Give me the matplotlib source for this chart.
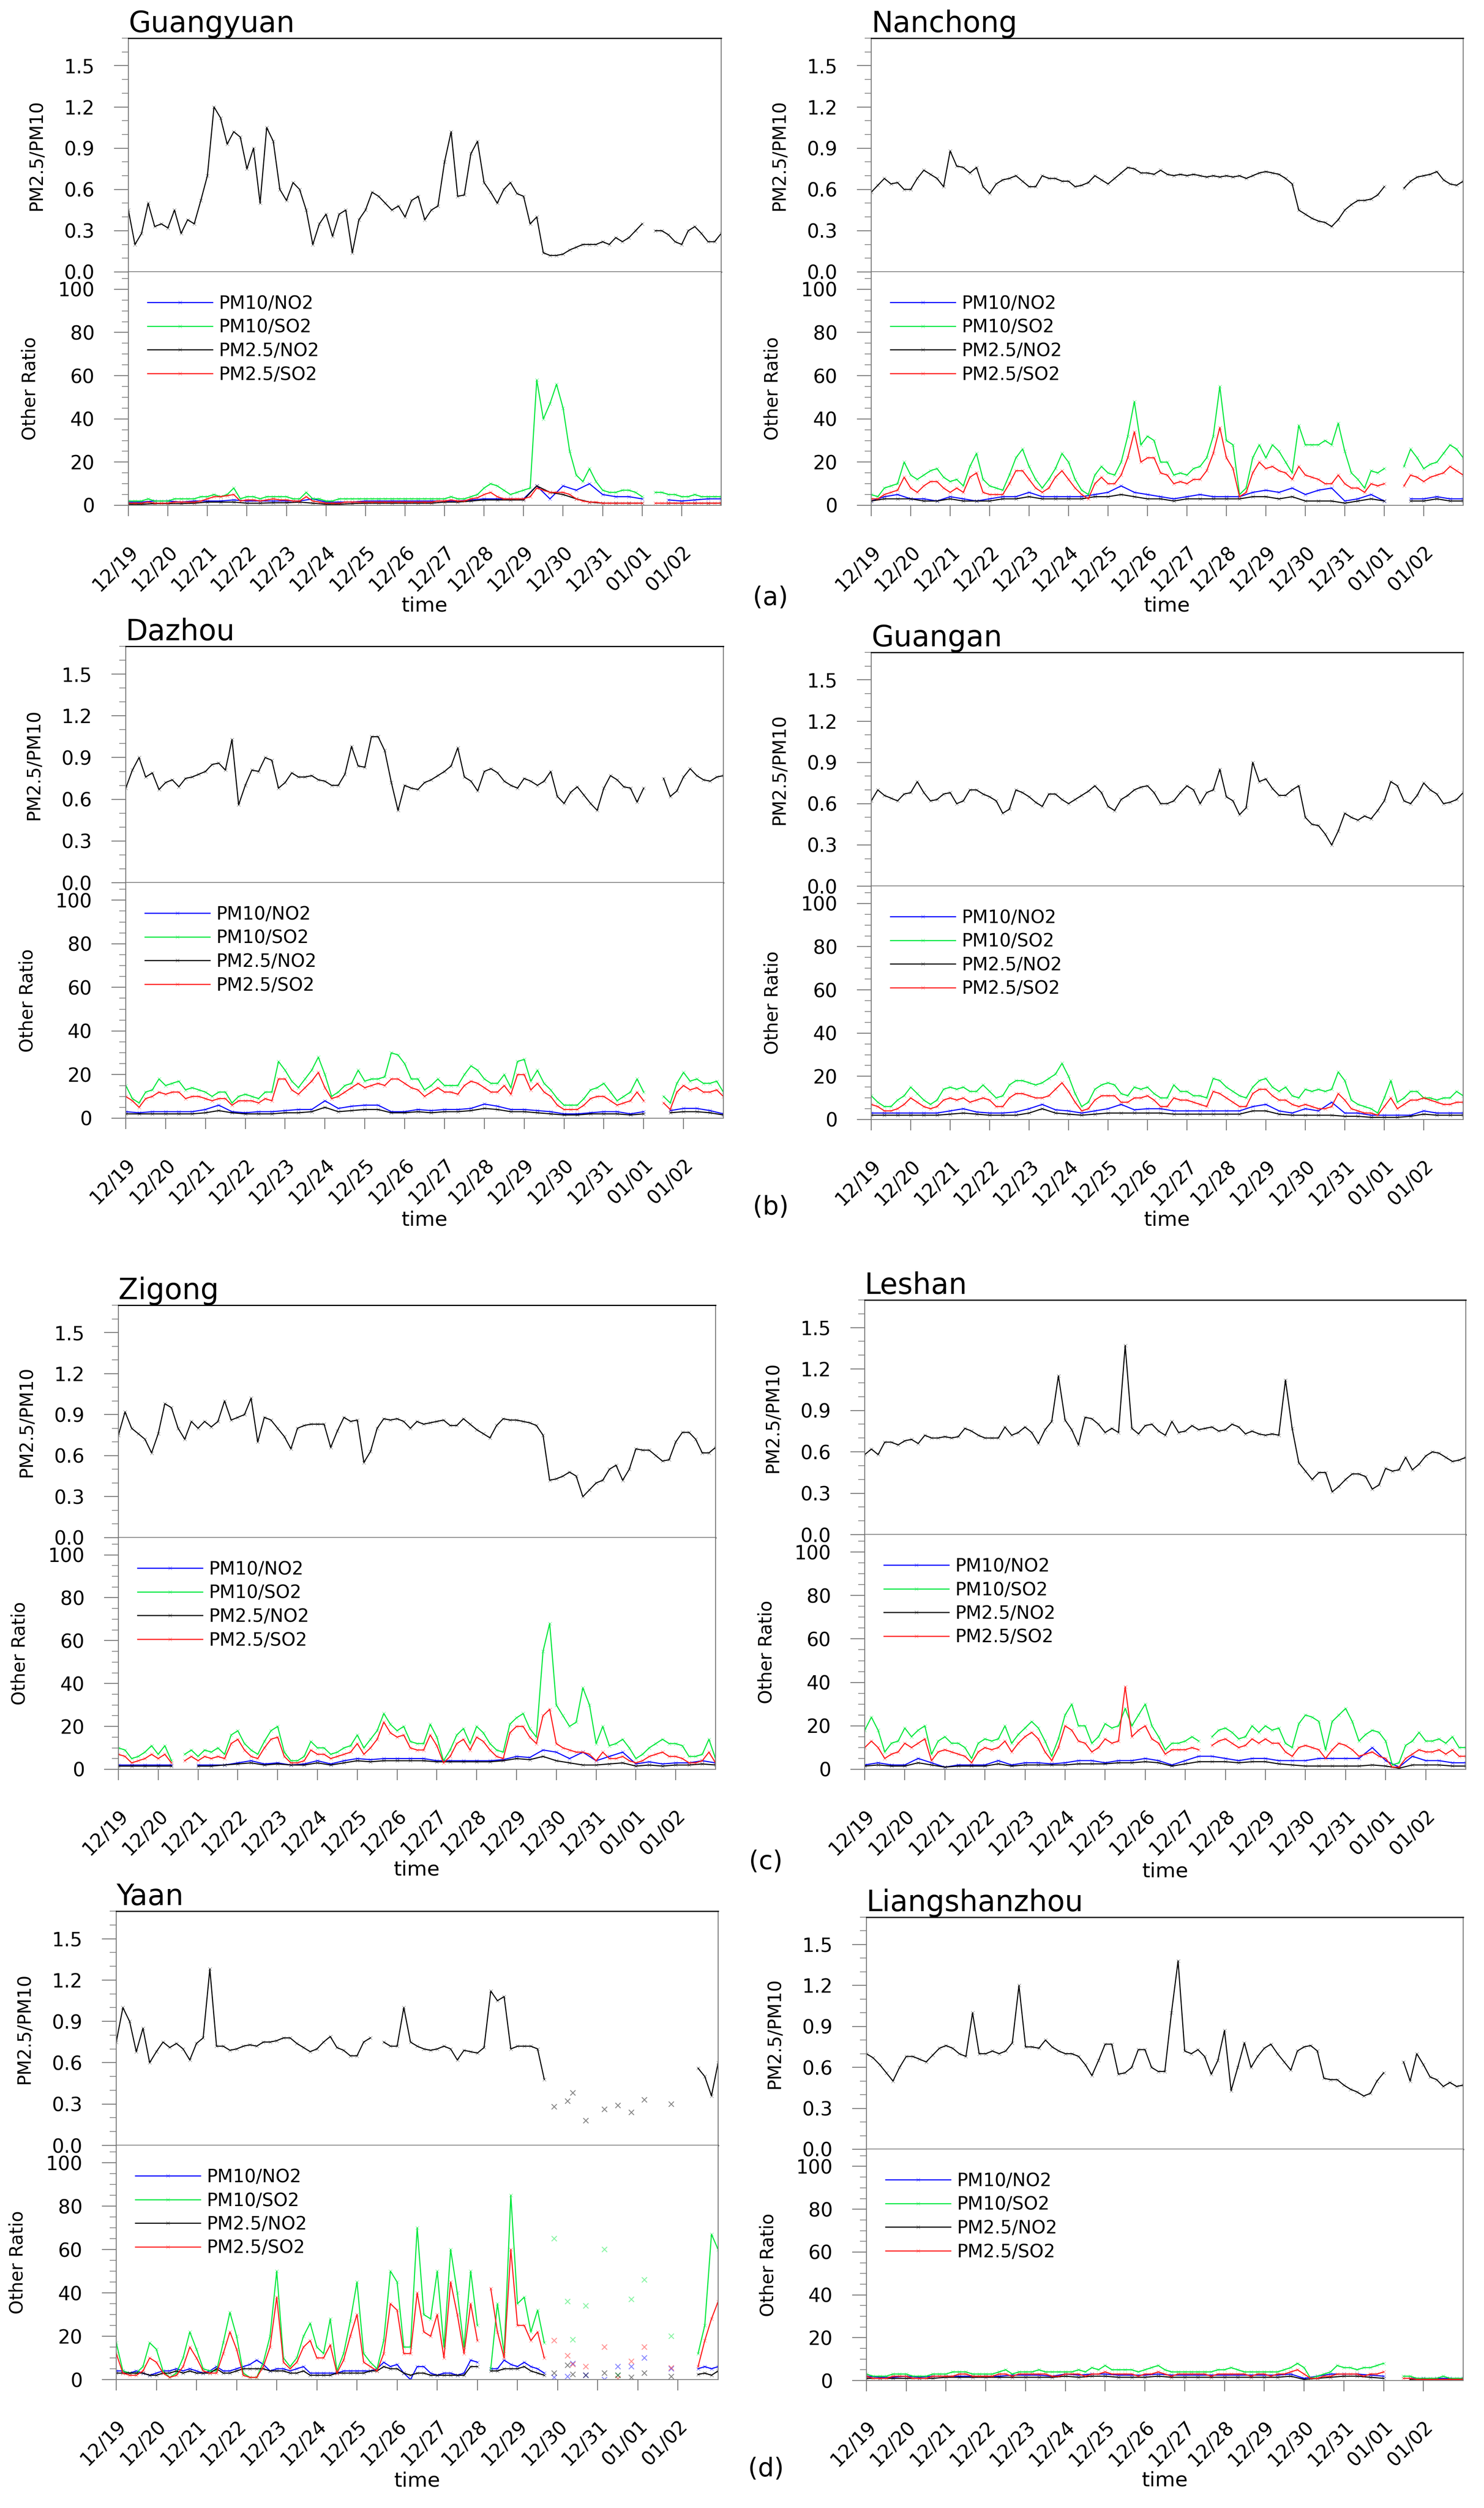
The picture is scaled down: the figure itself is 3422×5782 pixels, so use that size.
import numpy as np
import matplotlib
matplotlib.use('Agg')
import matplotlib.pyplot as plt
from matplotlib.ticker import MultipleLocator

plt.rcParams['font.family'] = ['DejaVu Sans']
nan = float('nan')

date_labels = ['12/19', '12/20', '12/21', '12/22', '12/23', '12/24', '12/25', '12/26',
               '12/27', '12/28', '12/29', '12/30', '12/31', '01/01', '01/02']
legend_labels = ['PM10/NO2', 'PM10/SO2', 'PM2.5/NO2', 'PM2.5/SO2']
series_colors = ['#0000ff', '#00e83c', '#000000', '#ff1a1a']
panel_letters = ['(a)', '(b)', '(c)', '(d)']
station_names = ['Guangyuan', 'Nanchong', 'Dazhou', 'Guangan',
                 'Zigong', 'Leshan', 'Yaan', 'Liangshanzhou']

# ---------------- Guangyuan ----------------
guangyuan_pm25_pm10 = [0.45,0.20,0.28,0.50,0.33,0.35, 0.32,0.45,0.28,0.38,0.35,0.52,
    0.70,1.20,1.12,0.93,1.02,0.98, 0.75,0.90,0.50,1.05,0.95,0.60, 0.52,0.65,0.60,0.45,0.20,0.35,
    0.42,0.26,0.42,0.45,0.14,0.38, 0.45,0.58,0.55,0.50,0.45,0.48, 0.40,0.52,0.55,0.38,0.45,0.48,
    0.80,1.02,0.55,0.56,0.86,0.95, 0.65,0.58,0.50,0.60,0.65,0.57, 0.55,0.35,0.40,0.14,0.12,0.12,
    0.13,0.16,0.18,0.20,0.20,0.20, 0.22,0.20,0.25,0.22,0.25,0.30, 0.35,nan,0.30,0.30,0.27,0.22,
    0.20,0.30,0.33,0.28,0.22,0.22, 0.28]
guangyuan_pm10_so2 = [2,2,2,3,2,2, 2,3,3,3,3,4, 4,5,4,5,8,3, 4,4,3,4,4,4, 4,3,3,6,3,3,
    2,2,3,3,3,3, 3,3,3,3,3,3, 3,3,3,3,3,3, 3,4,3,3,4,5, 8,10,9,7,5,6, 7,8,58,40,47,56,
    45,25,14,11,17,11, 7,6,6,7,7,6, 4,nan,6,6,5,5, 4,4,5,4,4,4, 4]
guangyuan_pm25_so2 = [1,1,1,1.5,1,1, 1,1.5,1.5,1.5,1.5,2, 3,4,4,4.5,5,2, 2.5,2.5,2,2.5,3,2.5,
    2.5,2,2,4,2,1.5, 1,1,1,1.5,1.5,1.5, 1.5,1.5,1.5,1.5,1.5,1.5, 1.5,1.5,1.5,1.5,1.5,2,
    2,2.5,2,2,3,3.5, 5,6,4,3,3,3, 3,4,8,7,6,6, 6,5,3,2,1.5,1.5, 1,1,1,1,1,1,
    1,nan,1,1,1,1, 1,1,1,1,1,1, 1]
guangyuan_pm10_no2 = [1.5,1.5,2, 2,1.5,2, 2,2,2.5, 2,2,2, 2,2,3, 1.5,1.5,1.5, 2,2,2, 2,2,2,
    2,2,2.5, 3,3,3, 3,9,3, 9,7,10, 5,4,4, 3,nan,2.5, 2,2.5,3, 3]
guangyuan_pm25_no2 = [0.5,0.5,0.8, 0.8,0.8,1, 1.5,1.5,1.5, 1,1,1.2, 1.2,1.5,1, 0.5,0.5,0.8,
    1,1,1, 1,1,1, 1.5,1.5,2, 2.5,2.5,2.5, 2.5,9,6, 5,3,1.5, 1,1,1, 1,nan,1, 1,1,1, 1]

# ---------------- Nanchong ----------------
nanchong_pm25_pm10 = [0.58,0.63,0.68,0.64,0.65,0.60, 0.60,0.68,0.74,0.71,0.68,0.62,
    0.88,0.77,0.76,0.72,0.76,0.62, 0.57,0.64,0.67,0.68,0.70,0.66, 0.62,0.62,0.70,0.68,0.68,0.66,
    0.66,0.62,0.63,0.65,0.70,0.67, 0.64,0.68,0.72,0.76,0.75,0.72, 0.72,0.71,0.74,0.71,0.70,0.71,
    0.70,0.71,0.70,0.69,0.70,0.69, 0.70,0.69,0.70,0.68,0.70,0.72, 0.73,0.72,0.71,0.68,0.64,0.45,
    0.42,0.39,0.37,0.36,0.33,0.38, 0.45,0.49,0.52,0.52,0.53,0.56, 0.62,nan,nan,0.61,0.66,0.69,
    0.70,0.71,0.73,0.67,0.64,0.63, 0.66]
nanchong_pm10_so2 = [5,4,8,9,10,20, 14,12,14,16,17,13, 11,12,9,18,24,12, 9,8,7,14,22,26,
    18,12,8,12,17,24, 20,12,7,5,14,18, 15,14,20,32,48,28, 32,30,20,20,14,15,
    14,17,18,22,32,55, 30,28,5,8,22,28, 22,28,25,20,15,37, 28,28,28,30,28,38,
    25,15,12,8,16,15, 17,nan,nan,18,26,22, 17,19,20,24,28,26, 22]
nanchong_pm25_so2 = [3,3,5,6,7,13, 8,6,9,11,11,8, 6,8,6,13,15,6, 5,5,5,10,16,16,
    12,8,6,8,13,16, 12,8,5,3,10,13, 10,10,14,22,34,20, 22,22,15,14,10,11,
    10,12,12,16,24,36, 22,17,4,6,15,20, 17,18,16,15,12,18, 14,13,12,10,10,14,
    10,8,8,6,10,9, 10,nan,nan,9,14,13, 11,13,14,15,18,16, 14]
nanchong_pm10_no2 = [2,4,5, 3,3,2, 4,3,2, 3,4,4, 6,4,4, 4,4,5, 6,9,6, 5,4,3, 4,5,4,
    4,4,6, 7,6,8, 5,7,8, 2,3,5, 2,nan,3, 3,4,3, 3]
nanchong_pm25_no2 = [2,3,3, 3,2,2, 3,2,2, 2,3,3, 4,3,3, 3,3,4, 4,5,4, 3,3,2, 3,3,3,
    3,3,4, 4,3,4, 2,2,2, 1,2,3, 2,nan,2, 2,3,2, 2]

# ---------------- Dazhou ----------------
dazhou_pm25_pm10 = [0.68,0.81,0.90,0.76,0.79,0.67, 0.72,0.74,0.69,0.75,0.76,0.78,
    0.80,0.85,0.86,0.81,1.03,0.56, 0.70,0.81,0.80,0.90,0.88,0.68, 0.72,0.79,0.76,0.76,0.77,0.74,
    0.73,0.70,0.70,0.78,0.98,0.84, 0.83,1.05,1.05,0.95,0.72,0.52, 0.70,0.68,0.67,0.72,0.74,0.77,
    0.80,0.84,0.97,0.76,0.73,0.66, 0.80,0.82,0.79,0.73,0.70,0.68, 0.75,0.73,0.70,0.73,0.80,0.62,
    0.57,0.65,0.69,0.63,0.57,0.52, 0.68,0.77,0.74,0.69,0.68,0.58, 0.68,nan,nan,0.75,0.62,0.66,
    0.76,0.82,0.77,0.74,0.73,0.76, 0.77]
dazhou_pm10_so2 = [15,9,7,12,13,18, 15,16,17,13,14,13, 12,10,12,12,7,10, 11,10,9,12,12,26,
    22,17,14,18,22,28, 20,10,12,15,16,22, 17,18,18,19,30,29, 25,18,18,13,15,18,
    15,15,15,20,24,22, 18,16,16,20,14,26, 27,17,22,16,13,9, 6,6,6,9,13,14,
    16,12,8,10,12,18, 12,nan,nan,10,7,16, 21,17,18,16,16,17, 12]
dazhou_pm25_so2 = [10,8,5,9,10,12, 11,12,12,9,10,10, 9,8,9,9,6,8, 8,8,7,9,8,18,
    18,13,11,14,17,21, 14,9,10,12,14,16, 14,15,16,15,18,18, 16,14,13,10,12,14,
    12,12,11,15,17,16, 14,12,12,15,11,20, 20,13,16,12,10,6, 4,4,4,6,9,10,
    10,8,6,7,8,12, 8,nan,nan,7,4,12, 15,13,14,12,12,13, 10]
dazhou_pm10_no2 = [3,2.5,3, 3,3,3, 4,6,3, 2.5,3,3, 3.5,4,4, 8,4.5,5.5, 6,6,3, 3,4,3.5,
    4,4,4.5, 6.5,5.5,4, 4,3.5,3, 2,2,2.5, 3,3,2, 3,nan,3.5, 4.5,4.5,3.5, 2]
dazhou_pm25_no2 = [2,2,2, 2,2,2, 2.5,3.5,2.5, 2,2,2, 2.5,2.5,3, 5,3,3.5, 4,4,2.5, 2.5,3,2.5,
    3,3,3.5, 4.5,4,3, 3,2.5,2, 1.5,1.5,2, 2,2,1.5, 2,nan,2.5, 3,3,2.5, 1.5]

# ---------------- Guangan ----------------
guangan_pm25_pm10 = [0.62,0.70,0.66,0.64,0.62,0.67, 0.68,0.76,0.68,0.62,0.63,0.67,
    0.68,0.60,0.62,0.70,0.70,0.67, 0.65,0.62,0.53,0.56,0.70,0.68, 0.65,0.61,0.58,0.67,0.67,0.63,
    0.60,0.63,0.66,0.69,0.73,0.68, 0.58,0.55,0.63,0.66,0.70,0.72, 0.73,0.68,0.60,0.60,0.62,0.68,
    0.73,0.70,0.60,0.68,0.70,0.85, 0.65,0.62,0.52,0.57,0.90,0.76, 0.78,0.71,0.66,0.66,0.70,0.73,
    0.50,0.45,0.44,0.38,0.30,0.40, 0.53,0.50,0.48,0.51,0.49,0.55, 0.62,0.76,0.73,0.62,0.60,0.66,
    0.75,0.70,0.67,0.60,0.61,0.63, 0.68]
guangan_pm10_so2 = [11,8,6,6,9,11, 15,12,9,7,9,14, 15,14,15,13,13,16, 13,10,11,16,18,18,
    17,16,17,19,21,26, 20,12,6,8,14,16, 17,16,12,11,15,14, 15,12,10,10,16,13,
    13,11,11,10,19,18, 15,13,11,10,15,18, 19,15,13,15,11,10, 14,13,14,13,14,22,
    18,9,7,6,5,3, 10,18,8,10,13,13, 10,10,9,10,10,13, 11]
guangan_pm25_so2 = [7,6,4,4,5,7, 10,8,6,5,6,9, 10,9,10,8,9,10, 9,6,6,10,12,12,
    11,10,10,11,14,17, 13,8,4,5,9,11, 11,11,8,8,10,10, 11,9,6,6,10,9,
    9,8,7,6,13,12, 10,8,6,6,12,14, 14,11,9,9,7,6, 7,6,5,5,6,12,
    9,5,4,3,3,2, 6,10,5,7,9,9, 10,9,8,7,7,8, 8]
guangan_pm10_no2 = [3,3,3, 3,3,3, 4,5,3.5, 3,3,3.5, 5,7,4.5, 4,3,4, 5,7,4.5, 5,5,4, 4,4,4,
    4,4,6, 7,4,3, 5,4,8, 3,3,2, 2,2,2, 4,3,3, 3]
guangan_pm25_no2 = [2,2,2, 2,2,2, 2.5,3,2.5, 2,2,2, 3,5,3, 2.5,2,2.5, 3,3,3, 3,3,2.5,
    2.5,2.5,2.5, 2.5,2.5,4, 4,2.5,2, 2,2,2, 1.5,1.5,1, 1,1,1.5, 2.5,2,2, 2]

# ---------------- Zigong ----------------
zigong_pm25_pm10 = [0.75,0.92,0.80,0.76,0.72,0.62, 0.76,0.98,0.95,0.80,0.72,0.85,
    0.80,0.85,0.81,0.85,1.00,0.86, 0.88,0.90,1.02,0.70,0.88,0.86, 0.80,0.74,0.65,0.80,0.82,0.83,
    0.83,0.83,0.66,0.78,0.88,0.85, 0.86,0.55,0.63,0.80,0.87,0.86, 0.87,0.85,0.80,0.85,0.83,0.84,
    0.85,0.86,0.82,0.82,0.87,0.83, 0.79,0.76,0.73,0.82,0.87,0.86, 0.86,0.85,0.84,0.82,0.75,0.42,
    0.43,0.45,0.48,0.45,0.30,0.35, 0.40,0.42,0.50,0.53,0.42,0.50, 0.65,0.64,0.64,0.60,0.56,0.57,
    0.70,0.77,0.77,0.72,0.62,0.62, 0.66]
zigong_pm10_so2 = [10,9,5,6,8,11, 7,11,4,nan,7,9, 6,9,8,10,7,16, 18,12,9,7,13,18,
    20,8,4,4,6,13, 10,10,7,8,10,11, 16,10,14,18,26,21, 18,20,13,12,12,21,
    15,4,9,16,19,12, 20,17,12,9,8,21, 24,26,19,15,55,68, 30,25,20,22,38,30,
    12,20,11,12,14,10, 5,7,10,12,14,12, 12,11,6,6,7,14, 5]
zigong_pm25_so2 = [7,6,3,4,5,7, 5,7,3,nan,4,6, 4,6,5,6,5,12, 14,9,6,5,10,14,
    15,6,3,3,4,9, 7,7,5,6,7,8, 12,7,10,14,22,17, 15,16,10,9,9,16,
    11,3,6,12,14,9, 15,13,9,6,5,17, 20,20,15,12,25,28, 12,10,9,8,8,7,
    4,8,5,5,6,4, 3,4,6,7,8,6, 6,5,3,3,4,8, 3]
zigong_pm10_no2 = [2,2,2, 2,2,nan, 2,2,2, 3,4,2.5, 3,2,2.5, 4,2.5,4, 5,4.5,5, 5,5,5, 4,4,4,
    4,4,4.5, 6,5.5,9, 8,5,8, 4,6,8, 2.5,3.5,2.5, 3,3,4, 3]
zigong_pm25_no2 = [1.5,1.5,1.5, 1.5,1.5,nan, 1.5,1.5,2, 2.5,3,2, 2.5,2,2, 3,2,3, 4,3.5,4,
    4,4,4, 3.5,3.5,3.5, 3.5,3.5,4, 5,4.5,6, 4,3,2, 2,2.5,3, 1.5,2,1.5, 2,2,2.5, 2]

# ---------------- Leshan ----------------
leshan_pm25_pm10 = [0.58,0.62,0.58,0.67,0.67,0.65, 0.68,0.69,0.66,0.72,0.70,0.70,
    0.71,0.70,0.71,0.77,0.75,0.72, 0.70,0.70,0.70,0.78,0.72,0.74, 0.78,0.74,0.66,0.76,0.82,1.15,
    0.83,0.76,0.65,0.85,0.84,0.80, 0.74,0.77,0.74,1.37,0.77,0.73, 0.79,0.80,0.75,0.72,0.82,0.74,
    0.75,0.79,0.76,0.77,0.78,0.75, 0.76,0.80,0.78,0.73,0.75,0.73, 0.72,0.73,0.72,1.12,0.77,0.52,
    0.46,0.40,0.45,0.45,0.31,0.35, 0.40,0.44,0.44,0.42,0.33,0.36, 0.48,0.46,0.47,0.56,0.47,0.51,
    0.57,0.60,0.59,0.56,0.53,0.54, 0.56]
leshan_pm10_so2 = [18,24,18,8,12,13, 19,15,18,20,7,13, 15,12,12,10,5,12, 14,13,14,20,12,16,
    19,22,19,13,6,14, 25,30,20,20,12,15, 21,19,20,28,20,25, 30,20,15,9,12,12,
    13,15,13,nan,15,18, 19,17,14,15,20,17, 20,18,19,12,10,21, 25,24,22,9,22,25,
    28,22,13,16,18,17, 13,2,3,11,13,17, 13,13,14,12,15,10, 10]
leshan_pm25_so2 = [10,13,10,5,7,8, 12,10,12,14,4,8, 9,8,7,6,3,8, 10,9,10,13,8,12,
    15,17,14,8,4,10, 20,18,13,12,8,10, 14,12,13,38,15,18, 20,14,12,7,9,9,
    9,10,9,nan,11,13, 14,12,10,11,14,12, 14,12,12,8,6,10, 11,10,9,5,9,12,
    11,9,6,7,8,6, 5,1,1,5,7,9, 8,8,9,7,9,6, 6]
leshan_pm10_no2 = [2,3,2, 2,5,3, 1,2,2, 2,4,2, 3,3,2.5, 3,4,4, 3,4,4, 5,4,2, 4,6,6,
    5,4,5, 5,4,4, 4,5,5, 5,5,10, 4,1,6, 4,4,3, 3]
leshan_pm25_no2 = [1.5,2,1.5, 1.5,3,2, 1,1.5,1.5, 1.5,2.5,1.5, 2,2,2, 2,2.5,2.5, 2.5,3,3,
    3.5,3,1.5, 2.5,3.5,3.5, 3.5,3,3.5, 3.5,2.5,2, 1.5,1.5,1.5, 1.5,1.5,2, 1.5,0.5,2,
    2,2,1.5, 1.5]

# ---------------- Yaan ----------------
yaan_pm25_pm10 = [0.75,1.00,0.90,0.68,0.85,0.60, 0.68,0.75,0.71,0.74,0.70,0.62,
    0.74,0.78,1.28,0.72,0.72,0.69, 0.70,0.72,0.73,0.72,0.75,0.75, 0.76,0.78,0.78,0.74,0.71,0.68,
    0.70,0.75,0.79,0.71,0.69,0.65, 0.65,0.75,0.78,nan,0.75,0.72, 0.72,1.00,0.75,0.72,0.70,0.69,
    0.70,0.72,0.70,0.62,0.69,0.68, 0.67,0.71,1.12,1.05,1.08,0.70, 0.72,0.72,0.72,0.70,0.48,nan,
    nan,nan,nan,nan,nan,nan, nan,nan,nan,nan,nan,nan, nan,nan,nan,nan,nan,nan,
    nan,nan,nan,0.56,0.50,0.36, 0.60]
yaan_pm10_so2 = [17,4,3,3,6,17, 14,4,1,3,10,22, 14,5,4,4,17,31, 20,3,1,1,8,20,
    50,10,6,10,20,26, 15,12,28,4,12,27, 45,12,8,5,18,50, 45,15,15,70,30,28,
    50,15,60,40,15,50, 25,nan,5,35,12,85, 35,38,22,32,17,nan,
    nan,nan,nan,nan,nan,nan, nan,nan,nan,nan,nan,nan, nan,nan,nan,nan,nan,nan,
    nan,nan,nan,12,25,67, 60]
yaan_pm25_so2 = [12,3,2,2,4,10, 8,3,1,2,6,15, 10,4,3,3,12,22, 14,2,1,1,6,15,
    38,8,5,8,15,18, 10,10,16,3,9,20, 30,8,6,4,12,35, 32,12,12,40,22,20,
    30,10,45,30,12,35, 18,nan,42,22,10,60, 25,25,18,22,10,nan,
    nan,nan,nan,nan,nan,nan, nan,nan,nan,nan,nan,nan, nan,nan,nan,nan,nan,nan,
    nan,nan,nan,6,18,28, 36]
yaan_pm10_no2 = [4,4,3,4,3,2, 3,4,4,5,4,5, 4,3,4,6,4,4, 5,6,7,9,7,4, 5,5,4,5,6,3,
    3,3,3,3,4,4, 4,4,4,5,8,6, 7,3,0,6,6,3, 2,3,3,2,3,9, 8,nan,5,5,9,7,
    6,8,6,5,3,nan, nan,nan,nan,nan,nan,nan, nan,nan,nan,nan,nan,nan, nan,nan,nan,nan,nan,nan,
    nan,nan,nan,5,6,5, 6]
yaan_pm25_no2 = [3,3,3,3,3,2, 2,3,3,4,3,4, 3,3,3,5,3,3, 4,5,5,5,5,4, 4,4,3,3,4,2,
    2,2,2,3,3,3, 3,3,4,4,6,5, 5,3,2,3,3,2, 2,2,2,2,2,6, 6,nan,4,4,5,5,
    5,6,4,3,2,nan, nan,nan,nan,nan,nan,nan, nan,nan,nan,nan,nan,nan, nan,nan,nan,nan,nan,nan,
    nan,nan,nan,2.4,3,2, 4]
# isolated hourly records in Yaan after 12/29 (hours since 12/19 00:00)
yaan_sparse_hours = [262, 270, 273, 281, 292, 300, 308, 316, 332]
yaan_sparse_pm25_pm10 = [0.28, 0.32, 0.38, 0.18, 0.26, 0.29, 0.24, 0.33, 0.30]
yaan_sparse_pm10_no2 = [1, 1.5, 7.5, 2, 0, 6, 6, 10, 5]
yaan_sparse_pm10_so2 = [65, 36, 18.5, 34, 60, 2, 37, 46, 20]
yaan_sparse_pm25_no2 = [3, 6.7, 2.4, 2, 3, 2, 1, 3, 1.5]
yaan_sparse_pm25_so2 = [18, 11, 7, 6, 15, 0.5, 8.5, 15, 5.5]

# ---------------- Liangshanzhou ----------------
liangshanzhou_pm25_pm10 = [0.70,0.67,0.62,0.56,0.50,0.60, 0.68,0.68,0.66,0.64,0.69,0.74,
    0.76,0.74,0.70,0.68,1.00,0.70, 0.70,0.72,0.70,0.72,0.78,1.20, 0.75,0.75,0.74,0.80,0.75,0.72,
    0.70,0.70,0.68,0.62,0.54,0.65, 0.77,0.77,0.55,0.56,0.60,0.73, 0.73,0.60,0.57,0.57,1.00,1.38,
    0.72,0.70,0.73,0.68,0.55,0.65, 0.87,0.43,0.60,0.78,0.60,0.68, 0.74,0.77,0.70,0.64,0.58,0.72,
    0.75,0.76,0.72,0.52,0.51,0.51, 0.47,0.44,0.42,0.39,0.41,0.50, 0.56,nan,nan,0.64,0.50,0.70,
    0.62,0.53,0.51,0.46,0.49,0.46, 0.47]
liangshanzhou_pm10_so2 = [3,2,2,2,3,3, 3,2,2,2,3,3, 3,4,4,4,3,3, 3,3,4,5,3,4,
    4,4,5,4,4,4, 4,4,5,4,6,5, 7,5,5,5,5,4, 5,6,7,5,4,4, 4,4,4,4,4,5,
    5,6,5,4,4,4, 4,4,4,5,6,8, 6,1,2,3,4,7, 6,6,5,6,6,7, 8,nan,nan,2,2,1,
    1,1,1,2,1,1, 1]
liangshanzhou_pm25_so2 = [2,1,1,1,2,2, 2,1,1,1,2,2, 2,2,3,3,2,2, 2,2,3,3,2,3,
    3,3,3,3,2,2, 3,3,3,2,3,3, 4,3,3,3,3,2, 3,3,4,3,2,3, 3,3,3,3,2,3,
    3,3,3,3,2,3, 3,2,3,3,4,5, 3,1,1,2,2,3, 3,3,3,2,3,3, 4,nan,nan,1,1,0.5,
    0.5,0.5,0.5,0.5,0.5,0.5, 0.5]
liangshanzhou_pm10_no2 = [2,1.5,1.5, 2,1.5,2, 2,2,2, 2,2,2.5, 2.5,2.5,2, 3,2.5,3, 3,2.5,2.5,
    2.5,3,2.5, 2.5,2.5,2.5, 2.5,2.5,2.5, 2.5,2.5,3, 1,2,3, 3,3,2.5, 2,nan,1, 1,1,1, 1]
liangshanzhou_pm25_no2 = [1,1,1, 1,1,1, 1.5,1.5,1.5, 1.5,1.5,1.5, 1.5,1.5,1.5, 2,1.5,2,
    2,1.5,1.5, 1.5,2,1.5, 1.5,1.5,1.5, 1.5,1.5,1.5, 1.5,1.5,2, 0.5,1,1.5, 2,2,1.5,
    1,nan,0.5, 0.5,0.5,0.5, 0.5]

stations = [
    (station_names[0], guangyuan_pm25_pm10, [guangyuan_pm10_no2, guangyuan_pm10_so2, guangyuan_pm25_no2, guangyuan_pm25_so2], None),
    (station_names[1], nanchong_pm25_pm10, [nanchong_pm10_no2, nanchong_pm10_so2, nanchong_pm25_no2, nanchong_pm25_so2], None),
    (station_names[2], dazhou_pm25_pm10, [dazhou_pm10_no2, dazhou_pm10_so2, dazhou_pm25_no2, dazhou_pm25_so2], None),
    (station_names[3], guangan_pm25_pm10, [guangan_pm10_no2, guangan_pm10_so2, guangan_pm25_no2, guangan_pm25_so2], None),
    (station_names[4], zigong_pm25_pm10, [zigong_pm10_no2, zigong_pm10_so2, zigong_pm25_no2, zigong_pm25_so2], None),
    (station_names[5], leshan_pm25_pm10, [leshan_pm10_no2, leshan_pm10_so2, leshan_pm25_no2, leshan_pm25_so2], None),
    (station_names[6], yaan_pm25_pm10, [yaan_pm10_no2, yaan_pm10_so2, yaan_pm25_no2, yaan_pm25_so2],
     (yaan_sparse_hours, yaan_sparse_pm25_pm10,
      [yaan_sparse_pm10_no2, yaan_sparse_pm10_so2, yaan_sparse_pm25_no2, yaan_sparse_pm25_so2])),
    (station_names[7], liangshanzhou_pm25_pm10, [liangshanzhou_pm10_no2, liangshanzhou_pm10_so2, liangshanzhou_pm25_no2, liangshanzhou_pm25_so2], None),
]

# ---------------- layout (pixels) ----------------
W, H = 3422, 5782
fig = plt.figure(figsize=(W / 100, H / 100), dpi=100)

# left, right, top, middle, bottom
boxes = [
    (296, 1663, 88, 627, 1165), (2009, 3374, 88, 627, 1165),
    (290, 1668, 1490, 2035, 2578), (2009, 3374, 1504, 2043, 2581),
    (273, 1650, 3009, 3545, 4079), (1994, 3380, 2997, 3538, 4079),
    (268, 1656, 4406, 4946, 5486), (1998, 3374, 4420, 4955, 5488),
]
time_label_y = [1397, 1397, 2813, 2813, 4311, 4315, 5720, 5719]
letter_pos = [(1777, 1378), (1777, 2783), (1766, 4292), (1766, 5692)]

SPINE = '#7a7a7a'
LW = 1.8


def rect(l, r, t, b):
    return [l / W, 1 - b / H, (r - l) / W, (b - t) / H]


def fx(px):
    return px / W


def fy(py):
    return 1 - py / H


def series_x(vals):
    return np.linspace(0, 15, len(vals))


def style_y(ax):
    ax.tick_params(axis='y', which='major', direction='out', length=24, width=1.6,
                   color=SPINE, pad=32, labelsize=32, right=False)
    ax.tick_params(axis='y', which='minor', direction='out', length=11, width=1.2,
                   color=SPINE, right=False)
    for s in ('left', 'right'):
        ax.spines[s].set_color(SPINE)
        ax.spines[s].set_linewidth(1.6)


for i, (name, top_vals, low_vals, sparse) in enumerate(stations):
    l, r, t, m, b = boxes[i]
    ax1 = fig.add_axes(rect(l, r, t, m))
    ax2 = fig.add_axes(rect(l, r, m, b))

    # upper: PM2.5/PM10
    ax1.plot(series_x(top_vals), top_vals, color='black', lw=LW, marker='x', ms=6,
             mew=1.0, mec=(0, 0, 0, 0.35))
    if sparse is not None:
        sx = np.array(sparse[0]) / 24.0
        ax1.plot(sx, sparse[1], ls='none', marker='x', ms=8, mew=1.6,
                 mec=(0, 0, 0, 0.45))
    ax1.set_xlim(0, 15)
    ax1.set_ylim(0, 1.7)
    ax1.set_yticks([0.0, 0.3, 0.6, 0.9, 1.2, 1.5])
    ax1.set_yticklabels(['0.0', '0.3', '0.6', '0.9', '1.2', '1.5'])
    ax1.yaxis.set_minor_locator(MultipleLocator(0.1))
    ax1.set_xticks([])
    style_y(ax1)
    ax1.spines['top'].set_color('black')
    ax1.spines['top'].set_linewidth(2.0)
    ax1.spines['bottom'].set_color('#404040')
    ax1.spines['bottom'].set_linewidth(2.4)
    ax1.set_title(name, loc='left', fontsize=48, pad=5)

    # lower: other ratios
    handles = []
    for j, (vals, col, lab) in enumerate(zip(low_vals, series_colors, legend_labels)):
        rgb = matplotlib.colors.to_rgb(col)
        ln, = ax2.plot(series_x(vals), vals, color=col, lw=LW, marker='x', ms=6,
                       mew=1.0, mec=rgb + (0.4,), label=lab)
        handles.append(ln)
        if sparse is not None:
            ax2.plot(np.array(sparse[0]) / 24.0, sparse[2][j], ls='none', marker='x',
                     ms=8, mew=1.6, mec=rgb + (0.45,))
    ax2.set_xlim(0, 15)
    ax2.set_ylim(0, 108)
    ax2.set_yticks([0, 20, 40, 60, 80, 100])
    ax2.yaxis.set_minor_locator(MultipleLocator(5))
    style_y(ax2)
    ax2.spines['top'].set_visible(False)
    ax2.spines['bottom'].set_color(SPINE)
    ax2.spines['bottom'].set_linewidth(1.4)
    ax2.set_xticks(np.arange(len(date_labels)))
    ax2.set_xticklabels(date_labels, rotation=45, ha='right', va='top',
                        rotation_mode='anchor', fontsize=32)
    ax2.tick_params(axis='x', which='major', direction='out', length=18, width=1.6,
                    color=SPINE, pad=44, top=False)

    w = r - l
    hgt = b - m
    ax2.legend(handles=handles, loc='upper left',
               bbox_to_anchor=(44 / w, 1 - 52 / hgt), frameon=False, fontsize=30,
               handlelength=3.6, handletextpad=0.35, labelspacing=0.3,
               borderpad=0, borderaxespad=0, numpoints=1)

    # axis labels
    fig.text(fx(l - 212), fy((t + m) / 2), 'PM2.5/PM10', rotation=90,
             ha='center', va='center', fontsize=30)
    fig.text(fx(l - 227), fy((m + b) / 2), 'Other Ratio', rotation=90,
             ha='center', va='center', fontsize=30)
    fig.text(fx((l + r) / 2), fy(time_label_y[i]), 'time', ha='center', va='center',
             fontsize=34)

for (px, py), letter in zip(letter_pos, panel_letters):
    fig.text(fx(px), fy(py), letter, ha='center', va='center', fontsize=42)

fig.savefig('out.png', dpi=100)
